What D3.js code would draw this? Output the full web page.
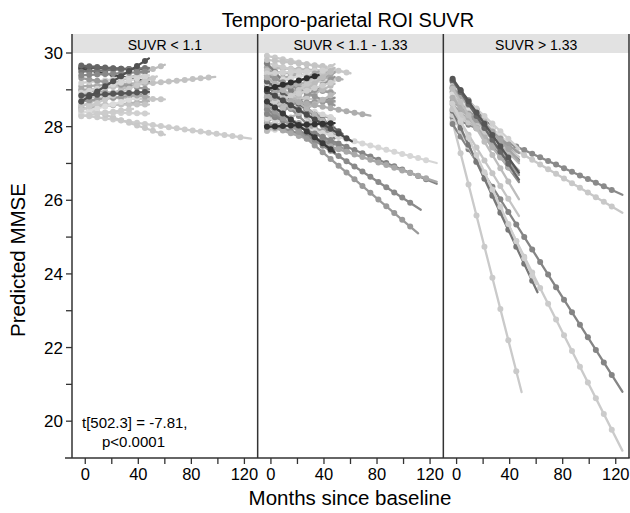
<!DOCTYPE html>
<html>
<head>
<meta charset="utf-8">
<script src="https://cdn.jsdelivr.net/npm/d3@7"></script>
<style>
  body { margin: 0; background: #fff; }
</style>
</head>
<body>
<div id="chart"></div>
<script>
// Facet labels, one per SUVR group
const panelLabels = ["SUVR < 1.1", "SUVR < 1.1 - 1.33", "SUVR > 1.33"];

// Axis ticks
const yTickLabels = [20, 22, 24, 26, 28, 30];
const yMinorTicks = [21, 23, 25, 27, 29];
const xTickLabels = [0, 40, 80, 120];
const xMinorTicks = [20, 60, 100];

// first visit month and spacing of visits
const firstVisit = -3;
const visitStep = 6;

// subjects: [predicted MMSE at month 0, slope per month, last visit month, gray]
const lowSuvr = [
  [29.6, -0.001, 48, "#5a5a5a"],
  [29.55, -0.007, 48, "#444444"],
  [29.5, 0.002, 48, "#777777"],
  [28.9, 0.013, 60, "#bdbdbd"],
  [29.0, 0.0036, 98, "#c2c2c2"],
  [29.1, 0.002, 48, "#aaaaaa"],
  [29.2, 0.004, 48, "#cfcfcf"],
  [28.6, 0.015, 48, "#bbbbbb"],
  [28.8, -0.001, 60, "#c6c6c6"],
  [28.3, -0.005, 125, "#cccccc"],
  [28.5, -0.012, 60, "#c8c8c8"],
  [28.4, -0.001, 48, "#d0d0d0"],
  [28.5, 0.004, 48, "#b5b5b5"],
  [28.6, 0.0, 48, "#c4c4c4"],
  [28.7, 0.004, 48, "#9a9a9a"],
  [29.3, -0.006, 48, "#999999"],
  [28.4, 0.01, 48, "#dcdcdc"],
  [29.0, -0.004, 48, "#aaaaaa"],
  [28.3, 0.005, 36, "#cccccc"],
  [29.4, 0.002, 48, "#888888"],
  [28.95, 0.009, 48, "#d4d4d4"],
  [28.5, 0.016, 54, "#c9c9c9"],
  [28.85, 0.002, 48, "#555555"],
  [29.65, -0.003, 30, "#666666"],
  [28.75, 0.023, 48, "#505050"]
];

const midSuvr = [
  [29.9, -0.0075, 60, "#c8c8c8"],
  [29.6, -0.002, 48, "#bbbbbb"],
  [29.7, -0.009, 48, "#cbcbcb"],
  [29.3, 0.004, 48, "#a8a8a8"],
  [29.5, -0.004, 54, "#b0b0b0"],
  [29.4, -0.01, 48, "#c0c0c0"],
  [29.2, -0.006, 48, "#9c9c9c"],
  [29.0, 0.006, 48, "#d0d0d0"],
  [28.9, 0.012, 48, "#b0b0b0"],
  [28.7, 0.016, 48, "#a5a5a5"],
  [28.5, 0.022, 48, "#c5c5c5"],
  [28.4, 0.008, 48, "#8f8f8f"],
  [28.3, 0.018, 48, "#bbbbbb"],
  [28.6, -0.008, 48, "#a0a0a0"],
  [28.8, -0.012, 48, "#d5d5d5"],
  [29.1, -0.024, 48, "#b8b8b8"],
  [29.3, -0.03, 48, "#cacaca"],
  [29.5, -0.036, 48, "#a5a5a5"],
  [29.6, -0.04, 48, "#7e7e7e"],
  [29.4, -0.042, 48, "#bfbfbf"],
  [28.1, -0.006, 48, "#c0c0c0"],
  [28.2, 0.024, 48, "#969696"],
  [27.9, 0.006, 48, "#d2d2d2"],
  [28.0, -0.01, 48, "#bdbdbd"],
  [28.5, -0.02, 60, "#9d9d9d"],
  [29.0, -0.034, 48, "#8a8a8a"],
  [28.9, -0.005, 48, "#c8c8c8"],
  [29.2, 0.008, 42, "#d8d8d8"],
  [28.6, 0.002, 48, "#9a9a9a"],
  [29.8, -0.004, 42, "#c4c4c4"],
  [28.75, -0.016, 48, "#b2b2b2"],
  [28.35, -0.012, 48, "#a2a2a2"],
  [29.35, -0.016, 48, "#959595"],
  [28.45, 0.026, 48, "#c7c7c7"],
  [27.95, 0.02, 48, "#b9b9b9"],
  [29.15, -0.025, 54, "#606060"],
  [28.05, -0.011, 48, "#8d8d8d"],
  [29.45, 0.002, 48, "#d0d0d0"],
  [28.25, 0.028, 48, "#bcbcbc"],
  [28.85, 0.018, 36, "#a9a9a9"],
  [29.25, -0.028, 48, "#b4b4b4"],
  [28.65, 0.012, 48, "#cdcdcd"],
  [28.2, -0.0095, 125, "#d6d6d6"],
  [28.3, -0.0148, 125, "#858585"],
  [28.0, -0.012, 125, "#a8a8a8"],
  [28.4, -0.0235, 113, "#8a8a8a"],
  [28.5, -0.0306, 111, "#9a9a9a"],
  [28.8, -0.0067, 75, "#adadad"],
  [28.9, -0.0213, 61, "#4a4a4a"],
  [28.6, -0.027, 48, "#3a3a3a"],
  [28.0, 0.002, 48, "#333333"],
  [29.05, 0.0097, 36, "#2e2e2e"]
];

const highSuvr = [
  [28.2, -0.0164, 125, "#8a8a8a"],
  [28.3, -0.0211, 125, "#c8c8c8"],
  [27.7, -0.141, 49, "#cacaca"],
  [27.9, -0.0568, 125, "#858585"],
  [28.1, -0.0712, 125, "#cbcbcb"],
  [28.2, -0.077, 61, "#777777"],
  [29.1, -0.0425, 47, "#7a7a7a"],
  [28.9, -0.047, 47, "#999999"],
  [28.8, -0.049, 47, "#8a8a8a"],
  [28.7, -0.036, 47, "#bbbbbb"],
  [29.0, -0.034, 47, "#cfcfcf"],
  [28.5, -0.036, 47, "#aaaaaa"],
  [28.4, -0.026, 47, "#c8c8c8"],
  [28.8, -0.032, 40, "#dadada"],
  [28.3, -0.058, 47, "#c5c5c5"],
  [28.6, -0.028, 47, "#9c9c9c"],
  [28.4, -0.078, 60, "#cfcfcf"],
  [28.65, -0.045, 42, "#b0b0b0"],
  [28.95, -0.04, 47, "#a5a5a5"],
  [28.85, -0.06, 47, "#bdbdbd"],
  [29.1, -0.054, 47, "#666666"],
  [29.15, -0.051, 47, "#555555"]
];

const panelData = [lowSuvr, midSuvr, highSuvr];

function chart() {
    const width = 630;
    const height = 513;
    const left = 72, right = 629;
    const stripTop = 34, plotTop = 53, plotBottom = 458;
    const panelW = (right - left) / 3;
    const font = "'Liberation Sans', Arial, Helvetica, sans-serif";

    const x = d3.scaleLinear().domain([-10, 130]).range([0, panelW]);
    const y = d3.scaleLinear().domain([19, 30]).range([plotBottom, plotTop]);

    const svg = d3.create("svg")
        .attr("width", width)
        .attr("height", height)
        .attr("viewBox", [0, 0, width, height])
        .style("font-family", font);

    // title
    svg.append("text")
        .attr("x", 348).attr("y", 27)
        .attr("text-anchor", "middle")
        .attr("font-size", 20)
        .text("Temporo-parietal ROI SUVR");

    // axis titles
    svg.append("text")
        .attr("transform", `translate(25,260) rotate(-90)`)
        .attr("text-anchor", "middle")
        .attr("font-size", 20.5)
        .text("Predicted MMSE");

    svg.append("text")
        .attr("x", 350).attr("y", 505)
        .attr("text-anchor", "middle")
        .attr("font-size", 20.5)
        .text("Months since baseline");

    const line = d3.line()
        .x(d => x(d[0]))
        .y(d => y(d[1]));

    const at = (d, m) => d[0] + d[1] * m;

    panelData.forEach((subjects, i) => {
        const g = svg.append("g")
            .attr("transform", `translate(${left + i * panelW},0)`);

        // strip
        g.append("rect")
            .attr("x", 0).attr("y", stripTop)
            .attr("width", panelW).attr("height", plotTop - stripTop)
            .attr("fill", "#e2e2e2");
        g.append("text")
            .attr("x", panelW / 2).attr("y", 49.5)
            .attr("text-anchor", "middle")
            .attr("font-size", 14)
            .text(panelLabels[i]);

        // trajectories
        const subj = g.append("g")
            .selectAll("g")
            .data(subjects)
            .join("g");

        subj.append("path")
            .attr("fill", "none")
            .attr("stroke", d => d[3])
            .attr("stroke-width", 2.3)
            .attr("stroke-linecap", "round")
            .attr("d", d => line([[firstVisit, at(d, firstVisit)], [d[2], at(d, d[2])]]));

        subj.selectAll("circle")
            .data(d => d3.range(firstVisit, d[2] - 2, visitStep).map(m => [m, at(d, m), d[3]]))
            .join("circle")
            .attr("cx", p => x(p[0]))
            .attr("cy", p => y(p[1]))
            .attr("r", 3)
            .attr("fill", p => p[2]);

        // x ticks
        g.append("g")
            .attr("stroke", "#333").attr("stroke-width", 1.3)
            .selectAll("line")
            .data(xTickLabels.concat(xMinorTicks))
            .join("line")
            .attr("x1", d => x(d)).attr("x2", d => x(d))
            .attr("y1", plotBottom).attr("y2", plotBottom + 6);

        g.append("g")
            .selectAll("text")
            .data(xTickLabels)
            .join("text")
            .attr("x", d => x(d))
            .attr("y", 480)
            .attr("text-anchor", "middle")
            .attr("font-size", 16.5)
            .text(d => d);

        // panel borders
        g.append("line")
            .attr("x1", 0).attr("x2", 0)
            .attr("y1", stripTop).attr("y2", plotBottom)
            .attr("stroke", "#333").attr("stroke-width", 1.5);
        if (i === 2) {
            g.append("line")
                .attr("x1", panelW).attr("x2", panelW)
                .attr("y1", stripTop).attr("y2", plotBottom)
                .attr("stroke", "#333").attr("stroke-width", 1.5);
        }
    });

    // x axis base line
    svg.append("line")
        .attr("x1", 65).attr("x2", right + 0.75)
        .attr("y1", plotBottom).attr("y2", plotBottom)
        .attr("stroke", "#333").attr("stroke-width", 1.5);

    // y ticks
    svg.append("g")
        .attr("stroke", "#333").attr("stroke-width", 1.3)
        .selectAll("line")
        .data(yTickLabels.concat(yMinorTicks))
        .join("line")
        .attr("x1", left - 6).attr("x2", left)
        .attr("y1", d => y(d)).attr("y2", d => y(d));

    svg.append("g")
        .selectAll("text")
        .data(yTickLabels)
        .join("text")
        .attr("x", 63)
        .attr("y", d => y(d) + 6)
        .attr("text-anchor", "end")
        .attr("font-size", 17)
        .text(d => d);

    // test result
    const note = svg.append("text")
        .attr("font-size", 15);
    note.append("tspan").attr("x", 82).attr("y", 428).text("t[502.3] = -7.81,");
    note.append("tspan").attr("x", 102).attr("y", 447).text("p<0.0001");

    return svg.node();
}

document.getElementById("chart").appendChild(chart());
</script>
</body>
</html>
